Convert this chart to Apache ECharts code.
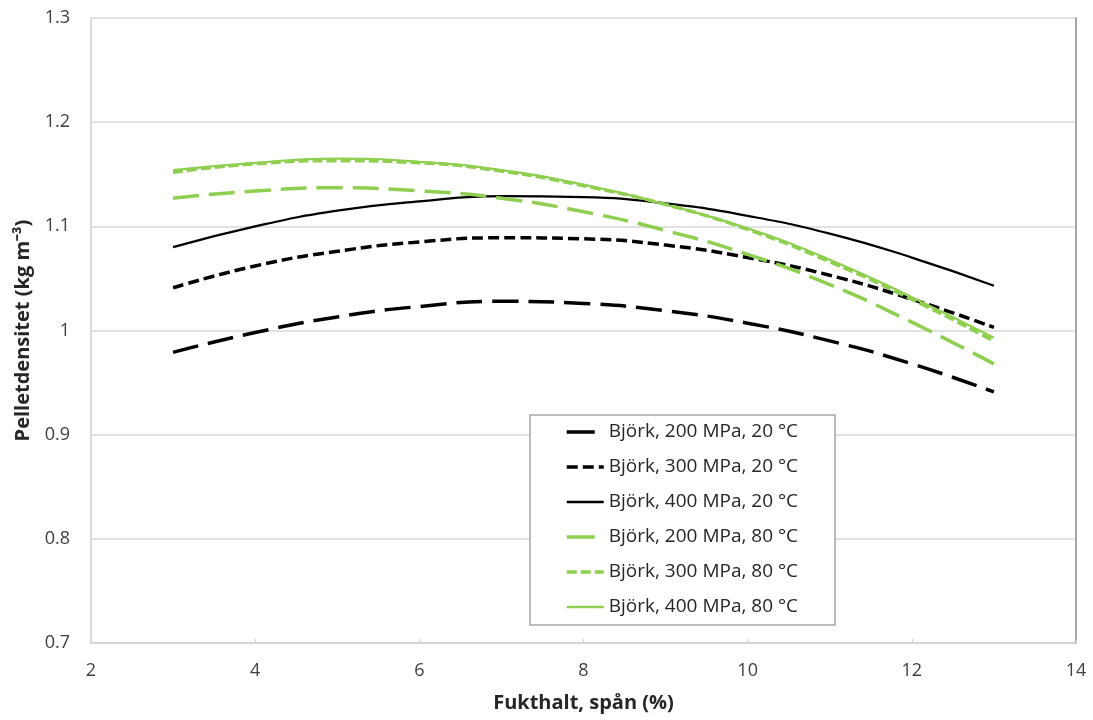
<!DOCTYPE html>
<html>
<head>
<meta charset="utf-8">
<script src="https://cdn.jsdelivr.net/npm/echarts@6/dist/echarts.min.js"></script>
<style>
  html, body { margin: 0; padding: 0; background: #fff; }
  #chart { width: 1093px; height: 720px; }
</style>
</head>
<body>
<div id="chart"></div>
<script>
// Moisture content of chips (%)
const moisture = [3, 4, 5, 6, 7, 8, 9, 10, 11, 12, 13];

// Pellet density curves (kg m-3), birch, by pressure and temperature
const b200_20 = [0.979, 0.998, 1.013, 1.023, 1.028, 1.026, 1.019, 1.007, 0.990, 0.968, 0.941];
const b300_20 = [1.041, 1.062, 1.076, 1.085, 1.089, 1.088, 1.082, 1.070, 1.053, 1.030, 1.003];
const b400_20 = [1.080, 1.100, 1.115, 1.124, 1.129, 1.128, 1.122, 1.110, 1.093, 1.070, 1.043];
const b200_80 = [1.127, 1.134, 1.137, 1.134, 1.127, 1.114, 1.096, 1.073, 1.044, 1.008, 0.968];
const b300_80 = [1.152, 1.160, 1.163, 1.161, 1.153, 1.139, 1.121, 1.097, 1.066, 1.030, 0.990];
const b400_80 = [1.154, 1.161, 1.165, 1.162, 1.154, 1.140, 1.121, 1.098, 1.068, 1.032, 0.993];

const seriesNames = [
  'Björk, 200 MPa, 20 °C',
  'Björk, 300 MPa, 20 °C',
  'Björk, 400 MPa, 20 °C',
  'Björk, 200 MPa, 80 °C',
  'Björk, 300 MPa, 80 °C',
  'Björk, 400 MPa, 80 °C'
];

const GREEN = '#8fcf4f';
const BLACK = '#000000';

// stroke settings per series: [colour, width, dash pattern, legend dash, legend width]
const strokes = [
  [BLACK, 3.5, [26, 10], [28, 20], 3.5],
  [BLACK, 3.5, [11, 5], [11, 5], 3.5],
  [BLACK, 2.2, 'solid', 'solid', 2.5],
  [GREEN, 3.5, [26, 10], [28, 20], 3.5],
  [GREEN, 3.5, [10, 4], [10, 4], 3.5],
  [GREEN, 2.2, 'solid', 'solid', 2.5]
];

function pairs(ys) { return moisture.map((x, i) => [x, ys[i]]); }

function line(i, ys) {
  const [color, width, dash] = strokes[i];
  return {
    name: seriesNames[i],
    type: 'line',
    data: pairs(ys),
    smooth: 0.5,
    symbol: 'none',
    lineStyle: { color: color, width: width, type: dash, cap: 'butt' },
    itemStyle: { color: color },
    emphasis: { disabled: true }
  };
}

const chart = echarts.init(document.getElementById('chart'));
const FONT = '"Open Sans", "Liberation Sans", sans-serif';

chart.setOption({
  animation: false,
  backgroundColor: '#ffffff',
  grid: { left: 91, right: 17, top: 18, bottom: 77 },
  xAxis: [{
    type: 'value',
    min: 2, max: 14, interval: 2,
    name: 'Fukthalt, spån (%)',
    nameLocation: 'middle',
    nameGap: 50,
    nameTextStyle: { fontFamily: FONT, fontSize: 20, fontWeight: 'bold', color: '#262626' },
    axisLine: { show: true, lineStyle: { color: '#d0d0d0', width: 1.5 } },
    axisTick: { show: true, inside: true, length: 4, lineStyle: { color: '#d0d0d0' } },
    axisLabel: { fontFamily: FONT, fontSize: 18, color: '#404040', margin: 19 },
    splitLine: { show: false }
  }],
  yAxis: [{
    type: 'value',
    min: 0.7, max: 1.3, interval: 0.1,
    name: 'Pelletdensitet (kg m⁻³)',
    nameLocation: 'middle',
    nameGap: 51,
    nameRotate: 90,
    nameTextStyle: { fontFamily: FONT, fontSize: 20, fontWeight: 'bold', color: '#262626' },
    axisLine: { show: true, lineStyle: { color: '#d0d0d0', width: 1.5 } },
    axisTick: { show: false },
    axisLabel: {
      fontFamily: FONT, fontSize: 18, color: '#404040', margin: 21,
      formatter: v => (Math.round(v * 10) / 10).toString()
    },
    splitLine: { show: true, lineStyle: { color: '#d9d9d9', width: 1.5 } }
  }, {
    // right-hand frame edge of the plot area
    type: 'value',
    position: 'right',
    min: 0.7, max: 1.3, interval: 0.1,
    axisLine: { show: true, lineStyle: { color: '#a6a6a6', width: 2 } },
    axisTick: { show: false },
    axisLabel: { show: false },
    splitLine: { show: false }
  }],
  legend: {
    orient: 'vertical',
    left: 530,
    top: 415,
    padding: [7, 37, 8, 35],
    itemWidth: 37,
    itemHeight: 20,
    itemGap: 15,
    borderColor: '#a6a6a6',
    borderWidth: 1.5,
    backgroundColor: '#ffffff',
    // only the line sample is shown; the marker dot is hidden
    itemStyle: { opacity: 0 },
    textStyle: { fontFamily: FONT, fontSize: 19, color: '#262626', lineHeight: 20 },
    data: seriesNames.map((name, i) => ({
      name: name,
      lineStyle: { color: strokes[i][0], width: strokes[i][4], type: strokes[i][3] }
    }))
  },
  series: [
    line(0, b200_20),
    line(1, b300_20),
    line(2, b400_20),
    line(3, b200_80),
    line(4, b300_80),
    line(5, b400_80)
  ]
});
</script>
</body>
</html>
